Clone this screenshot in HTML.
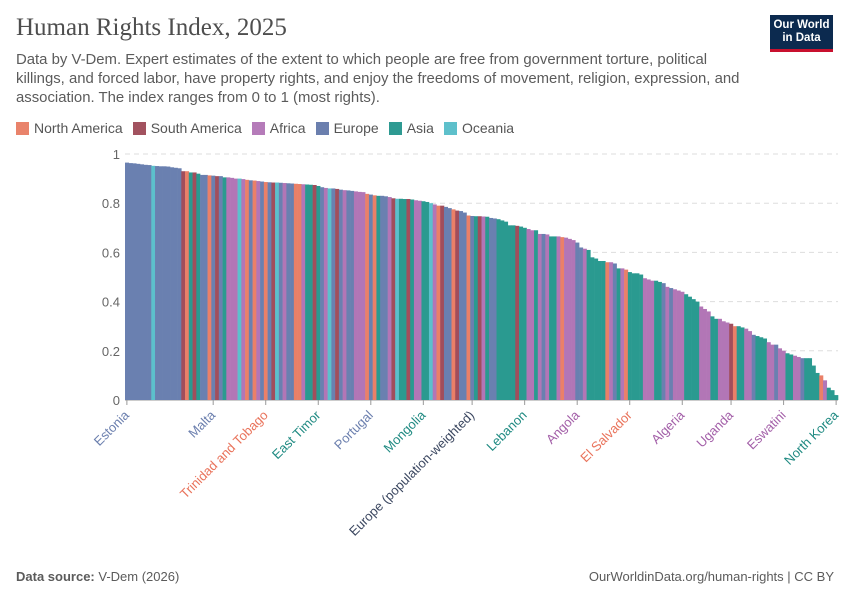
<!DOCTYPE html>
<html><head><meta charset="utf-8"><style>
body{margin:0;background:#fff;font-family:"Liberation Sans",sans-serif;}
#wrap{position:relative;width:850px;height:600px;overflow:hidden;}
.title{position:absolute;left:16px;top:14px;font-family:"Liberation Serif",serif;font-size:25px;color:#4e4e4e;}
.sub{position:absolute;left:16px;top:51px;width:800px;font-size:14.9px;line-height:19px;color:#5b5b5b;}
.logo{position:absolute;left:770px;top:15px;width:63px;height:37px;background:#0c2a4f;border-bottom:3px solid #c8102e;color:#fff;font-size:11.5px;line-height:13px;text-align:center;padding-top:4px;box-sizing:border-box;font-weight:bold;}
.legend{position:absolute;top:120px;left:16px;font-size:14px;color:#555;display:flex;gap:10px;}
.legend span{display:flex;align-items:center;gap:5px;}
.legend i{display:inline-block;width:13px;height:13px;}
.foot{position:absolute;top:569px;font-size:13px;color:#5b5b5b;}
</style></head><body><div id="wrap">
<div class="title">Human Rights Index, 2025</div>
<div class="logo">Our World<br>in Data</div>
<div class="sub">Data by V-Dem. Expert estimates of the extent to which people are free from government torture, political<br>killings, and forced labor, have property rights, and enjoy the freedoms of movement, religion, expression, and<br>association. The index ranges from 0 to 1 (most rights).</div>
<div class="legend">
<span><i style="background:#e9836b"></i>North America</span>
<span><i style="background:#a2525f"></i>South America</span>
<span><i style="background:#b57bb9"></i>Africa</span>
<span><i style="background:#6b7fae"></i>Europe</span>
<span><i style="background:#2e9a92"></i>Asia</span>
<span><i style="background:#5ec0cb"></i>Oceania</span>
</div>
<svg id="svg" width="850" height="600" style="position:absolute;left:0;top:0"></svg>
<div class="foot" style="left:16px"><b>Data source:</b> V-Dem (2026)</div>
<div class="foot" style="right:16px">OurWorldinData.org/human-rights | CC BY</div>
</div>
<script>
const values=[.965,.963,.962,.960,.958,.956,.955,.952,.951,.950,.950,.949,.946,.944,.942,
.93,.93,.925,.925,.92,.915,.915,.913,.912,.91,.91,.905,.905,.903,.9,.9,.898,.895,.893,.892,.89,.888,.886,.885,.884,.884,.883,.882,.881,
.88,.879,.878,.877,.876,.875,.874,.87,.865,.862,.86,.86,.858,.855,.853,.852,.85,.848,.846,.845,.838,.835,.832,.83,.83,.828,.825,.82,.818,.818,.817,.817,.815,.812,.81,.808,.805,.8,.795,.79,.79,.785,.78,.775,.77,.768,.762,.75,.748,.747,.747,.746,.745,.74,.738,.735,.73,.725,.71,.71,.708,.705,.70,.695,.69,.69,.675,.675,.673,.665,.665,.665,.662,.66,.655,.65,.64,.62,.615,.61,.58,.575,.565,.565,.56,.56,.555,.535,.535,.53,.52,.515,.515,.51,.495,.49,.485,.485,.48,.475,.46,.455,.45,.445,.44,.43,.42,.41,.40,.38,.37,.36,.34,.33,.33,.32,.315,.31,.30,.30,.295,.29,.28,.265,.26,.255,.25,.235,.225,.225,.21,.20,.19,.185,.18,.175,.17,.17,.17,.14,.11,.10,.08,.05,.04,.02];
const regions="EEEEEEEOEEEEEEESNXSXEENESEXAAAOANENAENESOEAEENNAXXSXEAOESEAEEAAANENXEEASOXXSXAAXXOANSEENSEENEXSAXEEXXXXXSXXAAXAEAXXANAAAEEAXXXXXNAEXANXXXXAAAXXEAEAAAXXXXAAAXXAAASNXXAAEXXXAAEAAXXAAEXXXXNAXX".split("");
const colors={N:"#ea8068",S:"#a14e5c",A:"#b276b6",E:"#6a80b0",X:"#2a9a90",O:"#5cc0cc"};
const yTicks=[0,0.2,0.4,0.6,0.8,1];
const labelIdx=[0,23,37,51,65,79,92,106,120,134,148,161,175,189];
const labelNames=["Estonia","Malta","Trinidad and Tobago","East Timor","Portugal","Mongolia","Europe (population-weighted)","Lebanon","Angola","El Salvador","Algeria","Uganda","Eswatini","North Korea"];
const labelColors=["#6b7fae","#6b7fae","#e9735b","#1f8a82","#6b7fae","#1f8a82","#3b4760","#1f8a82","#a35fa8","#e9735b","#a35fa8","#a35fa8","#a35fa8","#1f8a82"];
const X0=125,X1=838,Y0=400,Y1=154;
const n=values.length,bw=(X1-X0)/n;
const xS=i=>X0+i*bw, yS=v=>Y0-(Y0-Y1)*v;
const svg=document.getElementById('svg'),NS="http://www.w3.org/2000/svg";
function mk(t,a){const e=document.createElementNS(NS,t);for(const k in a)e.setAttribute(k,a[k]);svg.appendChild(e);return e;}
yTicks.forEach(t=>{
 const l=mk('line',{x1:X0,x2:X1,y1:yS(t),y2:yS(t),stroke:t===0?"#999":"#ddd","stroke-dasharray":t===0?"":"5,4"});
 
 
 const tx=mk('text',{x:120,y:yS(t)+5,"text-anchor":"end","font-size":13,fill:"#666","font-family":"Liberation Sans"});
 tx.textContent=t===0||t===1?String(t):t.toFixed(1);
 
 
});
values.forEach((v,i)=>{
 const r=mk('rect',{x:xS(i),y:yS(v),width:bw+0.3,height:Y0-yS(v),fill:colors[regions[i]]||"#2a9a90"});
 
 
});
labelIdx.forEach((idx,k)=>{
 const cx=xS(idx)+bw/2;
 mk('line',{x1:cx,x2:cx,y1:Y0,y2:Y0+5,stroke:"#999"});
 const tx=mk('text',{x:cx+3,y:Y0+16,"text-anchor":"end","font-size":13,fill:labelColors[k],"font-family":"Liberation Sans",transform:`rotate(-45 ${cx+3} ${Y0+16})`});
 tx.textContent=labelNames[k];
 
 
});
</script></body></html>
